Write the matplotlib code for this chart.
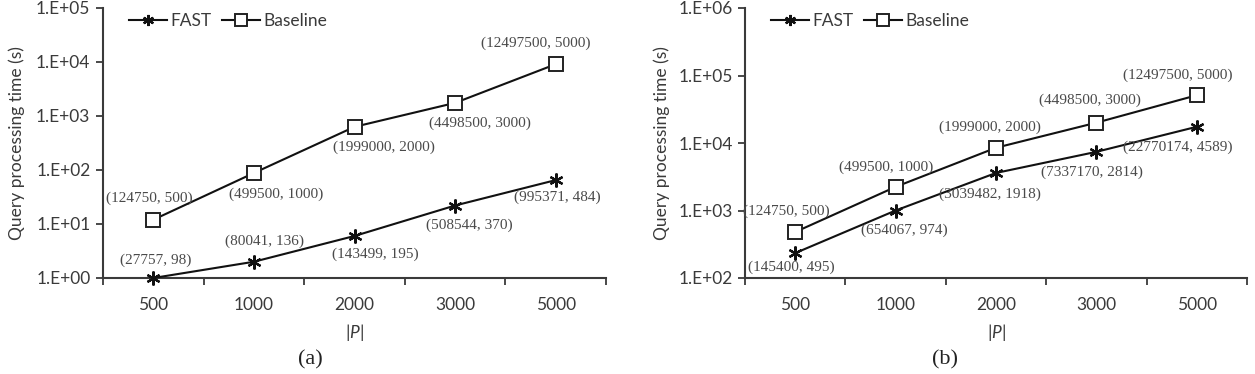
import matplotlib
matplotlib.use('Agg')
import matplotlib.pyplot as plt
from matplotlib.ticker import FixedLocator, FuncFormatter, NullLocator
import numpy as np

# data
sizes = ['500', '1000', '2000', '3000', '5000']

fast_a     = [1.0, 2.0, 6.0, 22.0, 65.0]
baseline_a = [12.0, 88.0, 630.0, 1750.0, 9100.0]
fast_lab_a = ['(27757, 98)', '(80041, 136)', '(143499, 195)',
              '(508544, 370)', '(995371, 484)']
base_lab_a = ['(124750, 500)', '(499500, 1000)', '(1999000, 2000)',
              '(4498500, 3000)', '(12497500, 5000)']

fast_b     = [234.0, 1000.0, 3600.0, 7400.0, 17400.0]
baseline_b = [480.0, 2240.0, 8500.0, 20000.0, 51000.0]
fast_lab_b = ['(145400, 495)', '(654067, 974)', '(3039482, 1918)',
              '(7337170, 2814)', '(22770174, 4589)']
base_lab_b = ['(124750, 500)', '(499500, 1000)', '(1999000, 2000)',
              '(4498500, 3000)', '(12497500, 5000)']

# label offsets in pixels (dx, dy), dy positive = up
fast_off_a = [(2, 18), (11, 20), (21, -18), (14, -20), (2, -17)]
base_off_a = [(-4, 21), (22, -21), (29, -20), (25, -20), (-20, 21)]
fast_off_b = [(-4, -14), (9, -20), (-6, -21), (-4, -20), (-19, -20)]
base_off_b = [(-9, 21), (-9, 20), (-6, 21), (-6, 22), (-19, 20)]

AX_COLOR = '#3a3a3a'
TXT_COLOR = '#4a4a4a'
SANS = 'Lato'

plt.rcParams['mathtext.fontset'] = 'custom'
plt.rcParams['mathtext.it'] = 'Lato:italic'

fig = plt.figure(figsize=(12.55, 3.74), dpi=100)

W, H = 1255.0, 374.0


def make_axes(x0, x1, y0, y1):
    return fig.add_axes([x0 / W, 1 - y1 / H, (x1 - x0) / W, (y1 - y0) / H])


def fmt(v, pos):
    return '1.E+%02d' % int(round(np.log10(v)))


def draw(ax, fast, base, flab, blab, foff, boff, ylim, caption, cap_x):
    x = np.arange(len(sizes))

    ax.plot(x, fast, color='#111111', lw=1.5, marker=(6, 2, 0), ms=10,
            mew=1.6, label='FAST', clip_on=False, zorder=3)
    ax.plot(x, base, color='#111111', lw=1.5, marker='s', ms=10,
            mfc='white', mec='#222222', mew=1.4, label='Baseline',
            clip_on=False, zorder=3)

    for xi, v, t, (dx, dy) in zip(x, fast, flab, foff):
        ax.annotate(t, (xi, v), xytext=(dx * 0.72, dy * 0.72),
                    textcoords='offset points', ha='center', va='center',
                    family='Liberation Serif', fontsize=11, color=TXT_COLOR)
    for xi, v, t, (dx, dy) in zip(x, base, blab, boff):
        ax.annotate(t, (xi, v), xytext=(dx * 0.72, dy * 0.72),
                    textcoords='offset points', ha='center', va='center',
                    family='Liberation Serif', fontsize=11, color=TXT_COLOR)

    ax.set_yscale('log')
    ax.set_ylim(*ylim)
    ax.set_xlim(-0.5, len(sizes) - 0.5)

    decades = 10.0 ** np.arange(np.log10(ylim[0]), np.log10(ylim[1]) + 1)
    ax.yaxis.set_major_locator(FixedLocator(decades))
    ax.yaxis.set_minor_locator(NullLocator())
    ax.yaxis.set_major_formatter(FuncFormatter(fmt))

    ax.set_xticks(x)
    ax.set_xticklabels(sizes)
    ax.set_xticks(np.arange(len(sizes) + 1) - 0.5, minor=True)
    ax.tick_params(axis='x', which='major', length=0, pad=14)
    ax.tick_params(axis='x', which='minor', length=5, width=1.3,
                   color=AX_COLOR, direction='out')
    ax.tick_params(axis='y', length=5, width=1.3, color=AX_COLOR,
                   direction='out', pad=4)
    for lab in ax.get_xticklabels() + ax.get_yticklabels():
        lab.set_family(SANS)
        lab.set_fontsize(12.5)
        lab.set_color(AX_COLOR)

    for s in ['top', 'right']:
        ax.spines[s].set_visible(False)
    for s in ['left', 'bottom']:
        ax.spines[s].set_color(AX_COLOR)
        ax.spines[s].set_linewidth(1.5)

    ax.set_xlabel(r'|$P$|', family=SANS, fontsize=12.5,
                  color=AX_COLOR, labelpad=6)
    ax.set_ylabel('Query processing time (s)', family=SANS,
                  fontsize=12.5, color=AX_COLOR)

    leg = ax.legend(loc='upper left', ncol=2, frameon=False,
                    bbox_to_anchor=(0.02, 1.04), handlelength=2.2,
                    columnspacing=0.6, handletextpad=0.2,
                    prop={'family': SANS, 'size': 12.5})
    for t in leg.get_texts():
        t.set_color(AX_COLOR)
    for h in leg.legend_handles:
        h.set_markersize(8)

    fig.text(cap_x / W, 1 - 360 / H, caption, family='Liberation Serif',
             fontsize=16, ha='center', va='center', color='#222222')


ax_a = make_axes(103, 606, 8, 278)
draw(ax_a, fast_a, baseline_a, fast_lab_a, base_lab_a, fast_off_a,
     base_off_a, (1, 1e5), '(a)', 310)
ax_a.yaxis.set_label_coords(-78 / 503, 0.5)

ax_b = make_axes(745, 1247, 8, 278)
draw(ax_b, fast_b, baseline_b, fast_lab_b, base_lab_b, fast_off_b,
     base_off_b, (1e2, 1e6), '(b)', 945)
ax_b.yaxis.set_label_coords(-75 / 502, 0.5)

fig.savefig('out.png', dpi=100, facecolor='white')
